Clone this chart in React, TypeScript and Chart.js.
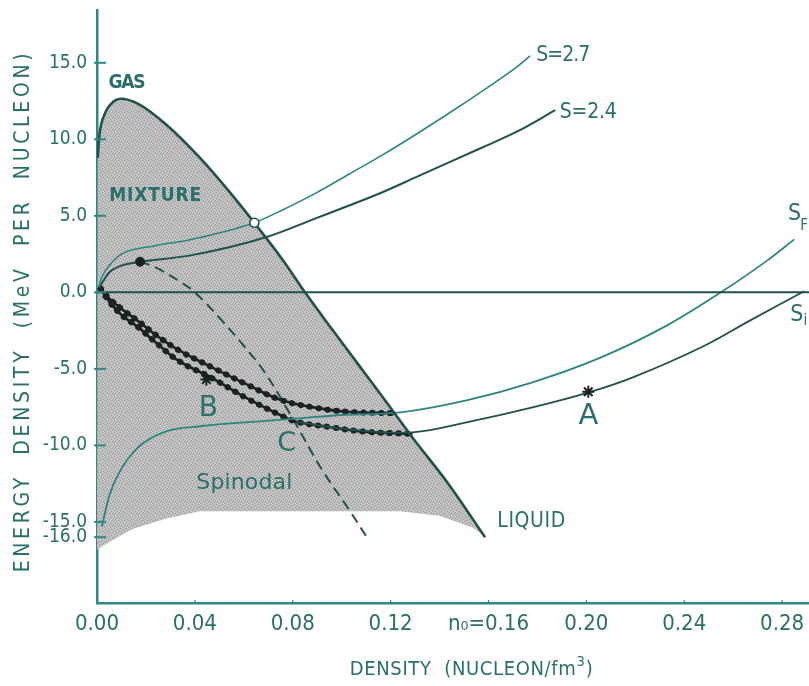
import React, { useEffect, useRef } from "react";
import { Chart, registerables } from "chart.js";
Chart.register(...registerables);

// ---------- axis ticks ----------
const xTicks = [0, 0.04, 0.08, 0.12, 0.16, 0.2, 0.24, 0.28];
const xTickLabels = ["0.00", "0.04", "0.08", "0.12", "n\u2080=0.16", "0.20", "0.24", "0.28"];
const yTicks = [15, 10, 5, 0, -5, -10, -15, -16];
const yTickLabels = ["15.0", "10.0", "5.0", "0.0", "-5.0", "-10.0", "-15.0", "-16.0"];

// ---------- curves (density n, energy E) ----------
const coexX = [0.0003, 0.001, 0.003, 0.007, 0.0098, 0.017, 0.028, 0.042, 0.055, 0.065, 0.076, 0.085, 0.096, 0.1156, 0.129, 0.144, 0.1586];
const coexY = [8.8, 10.3, 11.6, 12.5, 12.65, 12.3, 11.0, 8.8, 6.4, 4.4, 2.1, 0.0, -2.4, -6.6, -9.5, -12.6, -16.0];

const mixBottomX = [0.1586, 0.154, 0.14, 0.124, 0.1, 0.07, 0.042, 0.028, 0.014, 0.002, 0.0];
const mixBottomY = [-16.0, -15.4, -14.6, -14.3, -14.3, -14.3, -14.3, -14.8, -15.5, -16.6, -16.8];

const s27X = [0.0008, 0.002, 0.005, 0.01, 0.024, 0.038, 0.0643, 0.076, 0.0896, 0.1033, 0.1169, 0.1306, 0.1443, 0.1579, 0.1716, 0.177];
const s27Y = [0.4, 1.0, 1.75, 2.5, 3.05, 3.44, 4.55, 5.4, 6.5, 7.75, 9.0, 10.35, 11.75, 13.2, 14.73, 15.45];

const s24X = [0.0008, 0.002, 0.005, 0.01, 0.0176, 0.0377, 0.069, 0.0896, 0.1033, 0.1169, 0.1306, 0.1443, 0.1579, 0.1716, 0.1873];
const s24Y = [0.3, 0.6, 1.3, 1.75, 2.0, 2.4, 3.6, 4.85, 5.69, 6.56, 7.54, 8.52, 9.5, 10.5, 11.9];

const sfX = [0.002, 0.005, 0.009, 0.017, 0.028, 0.042, 0.069, 0.085, 0.102, 0.124, 0.151, 0.178, 0.206, 0.233, 0.255, 0.274, 0.285];
const sfY = [-15.3, -13.3, -11.8, -10.1, -9.1, -8.75, -8.4, -8.2, -8.0, -7.84, -7.06, -5.88, -4.25, -2.16, 0.0, 2.09, 3.46];

const siX = [0.0815, 0.095, 0.109, 0.129, 0.151, 0.178, 0.201, 0.219, 0.247, 0.267, 0.289];
const siY = [-8.45, -8.8, -9.05, -9.15, -8.5, -7.52, -6.54, -5.56, -3.59, -1.83, 0.07];

const beadUX = [0.0015, 0.005, 0.0102, 0.017, 0.0242, 0.0336, 0.047, 0.061, 0.0746, 0.088, 0.102, 0.122];
const beadUY = [0.25, -0.4, -1.1, -1.9, -2.8, -3.8, -4.9, -6.0, -7.0, -7.5, -7.8, -7.9];

const beadLX = [0.0015, 0.005, 0.0102, 0.017, 0.0242, 0.0336, 0.047, 0.061, 0.0746, 0.0815, 0.095, 0.109, 0.129];
const beadLY = [0.2, -0.6, -1.5, -2.3, -3.3, -4.5, -5.6, -6.9, -8.0, -8.45, -8.8, -9.1, -9.25];

const dashX = [0.0176, 0.024, 0.035, 0.04, 0.051, 0.06, 0.068, 0.079, 0.092, 0.103, 0.1107];
const dashY = [2.0, 1.63, 0.59, 0.0, -1.83, -3.5, -5.1, -7.97, -11.6, -14.2, -16.1];

const zeroX = [0, 0.291];
const zeroY = [0, 0];

const filledDotX = [0.0176];
const filledDotY = [2.0];
const openDotX = [0.0643];
const openDotY = [4.55];
const starX = [0.2008, 0.0447];
const starY = [-6.5, -5.7];

// ---------- styling ----------
const AXIS = "#2f8782";
const TEXT = "#2a6f6a";
const DARK = "#22504c";
const TEAL = "#2d8580";
const BEAD = "#1b2322";
const COND = "'DejaVu Sans Condensed', 'Liberation Sans Narrow', 'DejaVu Sans', sans-serif";
const SANS = "'DejaVu Sans', 'Liberation Sans', sans-serif";

const annotations = [
  { text: "GAS", x: 0.0123, y: 13.7, font: `bold 19px ${COND}`, w: 37 },
  { text: "MIXTURE", x: 0.0238, y: 6.3, font: `bold 19px ${COND}`, w: 92 },
  { text: "Spinodal", x: 0.0602, y: -12.5, font: `22px ${SANS}`, w: 96 },
  { text: "LIQUID", x: 0.1775, y: -15.0, font: `21px ${COND}`, w: 68 },
  { text: "S=2.7", x: 0.1906, y: 15.5, font: `21px ${COND}`, w: 54 },
  { text: "S=2.4", x: 0.2008, y: 11.75, font: `21px ${COND}`, w: 57 },
  { text: "A", x: 0.2008, y: -8.1, font: `29px ${SANS}`, w: 23 },
  { text: "B", x: 0.0455, y: -7.6, font: `28px ${SANS}`, w: 18 },
  { text: "C", x: 0.0775, y: -9.9, font: `27px ${SANS}`, w: 19 },
  { text: "S", x: 0.2851, y: 5.1, font: `23px ${COND}`, w: 13 },
  { text: "F", x: 0.289, y: 4.3, font: `15px ${COND}`, w: 8 },
  { text: "S", x: 0.286, y: -1.5, font: `23px ${COND}`, w: 13 },
  { text: "i", x: 0.2895, y: -1.85, font: `15px ${COND}`, w: 4 },
];

const pts = (xs: number[], ys: number[]) => xs.map((x, i) => ({ x, y: ys[i] }));

function drawFit(ctx: any, text: string, cx: number, cy: number, font: string, targetW: number, color: string) {
  ctx.font = font;
  ctx.letterSpacing = "0px";
  const w = ctx.measureText(text).width;
  const n = Array.from(text).length;
  const ls = n > 1 ? (targetW - w) / (n - 1) : 0;
  ctx.letterSpacing = ls.toFixed(2) + "px";
  ctx.fillStyle = color;
  ctx.textAlign = "left";
  ctx.textBaseline = "middle";
  const left = n > 1 ? cx - targetW / 2 : cx - w / 2;
  ctx.fillText(text, left, cy);
  ctx.letterSpacing = "0px";
}

const decorPlugin = {
  id: "decor",
  afterDraw(chart: any) {
    const { ctx } = chart;
    const x = chart.scales.x;
    const y = chart.scales.y;
    ctx.save();
    ctx.strokeStyle = AXIS;
    ctx.lineWidth = 2;
    yTicks.forEach((v) => {
      const py = y.getPixelForValue(v);
      ctx.beginPath();
      ctx.moveTo(x.left - 3, py);
      ctx.lineTo(x.left + 9, py);
      ctx.stroke();
    });
    ctx.lineWidth = 1.2;
    xTicks.forEach((v) => {
      const px = x.getPixelForValue(v);
      ctx.beginPath();
      ctx.moveTo(px, y.bottom);
      ctx.lineTo(px, y.bottom - 3);
      ctx.stroke();
    });
    annotations.forEach((a) => {
      drawFit(ctx, a.text, x.getPixelForValue(a.x), y.getPixelForValue(a.y), a.font, a.w, TEXT);
    });
    // x axis title
    const tx = x.getPixelForValue(0.1495);
    drawFit(ctx, "DENSITY  (NUCLEON/fm", tx, 670, `20px ${COND}`, 226, TEXT);
    ctx.font = `14px ${COND}`;
    ctx.fillStyle = TEXT;
    ctx.textAlign = "left";
    ctx.textBaseline = "middle";
    ctx.fillText("3", tx + 114, 662);
    ctx.font = `20px ${COND}`;
    ctx.fillText(")", tx + 123, 670);
    // y axis title
    ctx.translate(24, y.getPixelForValue(-1.34));
    ctx.rotate(-Math.PI / 2);
    drawFit(ctx, "ENERGY  DENSITY  (MeV  PER  NUCLEON)", 0, 0, `21px ${COND}`, 519, TEXT);
    ctx.restore();
  },
};

export default function App() {
  const ref = useRef<HTMLCanvasElement | null>(null);
  useEffect(() => {
    const canvas = ref.current!;
    const ctx = canvas.getContext("2d")!;
    const pc = document.createElement("canvas");
    pc.width = 6;
    pc.height = 6;
    const p = pc.getContext("2d")!;
    p.fillStyle = "#bcbcbc";
    p.fillRect(0, 0, 6, 6);
    p.fillStyle = "#949494";
    [[0, 0], [3, 1], [1, 3], [4, 4], [2, 5], [5, 2]].forEach(([a, b]) => p.fillRect(a, b, 1, 1));
    p.fillStyle = "#d8d8d8";
    [[2, 0], [5, 1], [0, 2], [3, 3], [1, 5], [4, 5]].forEach(([a, b]) => p.fillRect(a, b, 1, 1));
    const pattern = ctx.createPattern(pc, "repeat");

    const line = (data: any, color: string, width: number, extra: any = {}) => ({
      data,
      borderColor: color,
      borderWidth: width,
      pointRadius: 0,
      fill: false,
      tension: 0.4,
      order: 2,
      ...extra,
    });
    const mono = { cubicInterpolationMode: "monotone" };

    const shape = [...pts(coexX, coexY), ...pts(mixBottomX, mixBottomY)];

    const chart = new Chart(canvas, {
      type: "line",
      data: {
        datasets: [
          {
            data: shape,
            borderWidth: 0,
            borderColor: "rgba(0,0,0,0)",
            backgroundColor: pattern as any,
            pointRadius: 0,
            fill: "shape",
            tension: 0,
            order: 10,
          } as any,
          line(pts(zeroX, zeroY), DARK, 2, { tension: 0 }),
          line(pts(coexX, coexY), DARK, 2.6, mono),
          line(pts(s27X, s27Y), TEAL, 1.6, mono),
          line(pts(s24X, s24Y), DARK, 2, mono),
          line(pts(sfX, sfY), TEAL, 1.8, mono),
          line(pts(siX, siY), DARK, 1.8),
          line(pts(beadUX, beadUY), BEAD, 2.6),
          line(pts(beadUX, beadUY), BEAD, 6, { borderDash: [0.5, 8.5], borderCapStyle: "round" }),
          line(pts(beadLX, beadLY), BEAD, 2.6),
          line(pts(beadLX, beadLY), BEAD, 6, { borderDash: [0.5, 8.5], borderCapStyle: "round" }),
          line(pts(dashX, dashY), DARK, 2, { borderDash: [10, 6] }),
          {
            data: pts(filledDotX, filledDotY),
            showLine: false,
            pointRadius: 4.5,
            pointBackgroundColor: BEAD,
            pointBorderColor: BEAD,
            order: 0,
          } as any,
          {
            data: pts(openDotX, openDotY),
            showLine: false,
            pointRadius: 4.5,
            pointBackgroundColor: "#ffffff",
            pointBorderColor: DARK,
            pointBorderWidth: 1.6,
            order: 0,
          } as any,
          {
            data: pts(starX, starY),
            showLine: false,
            pointStyle: "star",
            pointRadius: 6,
            pointBorderColor: BEAD,
            pointBorderWidth: 2,
            order: 0,
          } as any,
        ] as any,
      },
      options: {
        animation: false,
        responsive: false,
        events: [],
        layout: { autoPadding: false, padding: { top: 10, right: 0, left: 0, bottom: 0 } },
        plugins: { legend: { display: false }, tooltip: { enabled: false } },
        scales: {
          x: {
            type: "linear",
            min: 0,
            max: 0.291,
            grid: { display: false, drawTicks: false },
            border: { display: true, color: AXIS, width: 2.5 },
            afterBuildTicks: (s: any) => {
              s.ticks = xTicks.map((v) => ({ value: v }));
            },
            afterFit: (s: any) => {
              s.height = 83;
              s.paddingLeft = 0;
              s.paddingRight = 0;
            },
            ticks: {
              padding: 8,
              maxRotation: 0,
              autoSkip: false,
              color: TEXT,
              font: { family: COND, size: 22 },
              callback: (v: any) => {
                const i = xTicks.findIndex((t) => Math.abs(t - Number(v)) < 1e-9);
                return i >= 0 ? xTickLabels[i] : "";
              },
            },
          },
          y: {
            type: "linear",
            min: -20.3,
            max: 18.45,
            grid: { display: false, drawTicks: false },
            border: { display: true, color: AXIS, width: 2.5 },
            afterBuildTicks: (s: any) => {
              s.ticks = yTicks.map((v) => ({ value: v }));
            },
            afterFit: (s: any) => {
              s.width = 97;
              s.paddingTop = 0;
              s.paddingBottom = 0;
            },
            ticks: {
              padding: 10,
              autoSkip: false,
              color: TEXT,
              font: { family: COND, size: 19 },
              callback: (v: any) => {
                const i = yTicks.findIndex((t) => Math.abs(t - Number(v)) < 1e-9);
                return i >= 0 ? yTickLabels[i] : "";
              },
            },
          },
        },
      } as any,
      plugins: [decorPlugin],
    });
    return () => chart.destroy();
  }, []);

  return (
    <div style={{ position: "fixed", left: 0, top: 0, width: 809, height: 686, background: "#ffffff" }}>
      <canvas ref={ref} width={809} height={686} style={{ display: "block", width: 809, height: 686 }} />
    </div>
  );
}
